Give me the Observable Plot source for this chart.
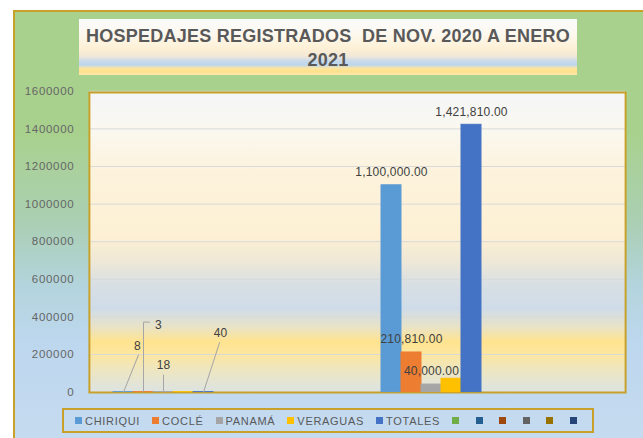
<!DOCTYPE html>
<html><head><meta charset="utf-8">
<script src="https://cdn.jsdelivr.net/npm/d3@7"></script>
<script src="https://cdn.jsdelivr.net/npm/@observablehq/plot@0.6"></script>
<style>
html,body{margin:0;padding:0;background:#fff;overflow:hidden;width:643px;height:438px;}
#page{position:relative;width:643px;height:438px;overflow:hidden;font-family:"Liberation Sans",Arial,sans-serif;}
#chartbg{position:absolute;left:13px;top:10px;width:640px;height:440px;border-left:2px solid #c8a12b;border-top:2px solid #c8a12b;
  background:linear-gradient(to bottom,#a9d18e 0%,#a9d18e 28%,#aacfb4 48%,#b3d4dc 62%,#bdd7ee 75%,#c6dbf0 100%);}
#title{position:absolute;left:79px;top:19px;width:498px;height:56px;box-sizing:border-box;padding-top:5px;
  background:linear-gradient(to bottom,#fafbfc 0%,#fdf9f0 25%,#fdf0d6 52%,#f3e8d6 66%,#c9daea 75%,#bdd6ee 82%,#fde5a0 88%,#ffe08a 94%,#fbe7b0 100%);
  text-align:center;font-weight:bold;font-size:18px;letter-spacing:0.25px;line-height:24px;color:#595959;}
#plot{position:absolute;left:0;top:0;}
#legend{position:absolute;left:62px;top:408px;width:532px;height:25px;box-sizing:border-box;border:2px solid #c8a12b;
  display:flex;align-items:center;padding-left:11px;font-size:11px;letter-spacing:0.7px;color:#595959;}
#legend .item{display:flex;align-items:center;}
#legend .sw{width:7px;height:7px;margin-right:3px;}
#legend .lab{margin-right:12px;}
#legend .blank .sw{margin-right:16.5px;}
#plot g[aria-label="y-axis tick label"] text{letter-spacing:0.7px;}
#plot g[aria-label="text"] text{letter-spacing:0.2px;}
</style></head>
<body><div id="page"><div id="chartbg"></div>
<div id="title">HOSPEDAJES REGISTRADOS&nbsp; DE NOV. 2020 A ENERO<br>2021</div>
<div id="plot"></div><div id="legend"></div></div>
<script>
const categories = ["NOV. 2020", "ENERO 2021"];
const seriesNames = ["CHIRIQUI","COCLÉ","PANAMÁ","VERAGUAS","TOTALES","SERIE 6","SERIE 7","SERIE 8","SERIE 9","SERIE 10","SERIE 11"];
const legendNames = ["CHIRIQUI","COCLÉ","PANAMÁ","VERAGUAS","TOTALES","","","","","",""];
const seriesColors = ["#5b9bd5","#ed7d31","#a5a5a5","#ffc000","#4472c4","#70ad47","#255e91","#9e480e","#636363","#997300","#264478"];
const chiriqui = [8, 1100000];
const cocle = [3, 210810];
const panama = [18, 40000];
const veraguas = [11, 71000];
const totales = [40, 1421810];
const yTicks = [0,200000,400000,600000,800000,1000000,1200000,1400000,1600000];
const labelledSeries = ["CHIRIQUI","COCLÉ","PANAMÁ","TOTALES"];

const valueArrays = [chiriqui, cocle, panama, veraguas, totales];
const rows = [];
categories.forEach((cat, i) => valueArrays.forEach((arr, j) => rows.push({cat, series: seriesNames[j], value: arr[i]})));

// style: displaced labels and leader lines for the small first-period values
const leaderStyle = {
  "CHIRIQUI": {dx: 14, dy: -46, length: 40, rotate: 22, hook: 0},
  "COCLÉ": {dx: 15, dy: -67, length: 70, rotate: 0, hook: 6},
  "PANAMÁ": {dx: 0, dy: -27, length: 17, rotate: 0, hook: 0},
  "TOTALES": {dx: 17, dy: -59, length: 52, rotate: 18, hook: 0}
};

const fmtBig = d3.format(",.2f");
const bigLabels = rows.filter(d => d.cat === categories[1] && labelledSeries.includes(d.series));
const smallLabels = rows.filter(d => d.cat === categories[0] && labelledSeries.includes(d.series));

const smallMarks = [];
for (const d of smallLabels) {
  const s = leaderStyle[d.series];
  smallMarks.push(Plot.vector([d], {fx: "cat", x: "series", y: "value", length: s.length, rotate: s.rotate, anchor: "start",
    stroke: "#a6a6a6", strokeWidth: 1,
    shape: {draw(ctx, l) { ctx.moveTo(0, 0); ctx.lineTo(0, -l); if (s.hook) ctx.lineTo(s.hook, -l); }}}));
  smallMarks.push(Plot.text([d], {fx: "cat", x: "series", y: "value", text: v => String(v.value), dx: s.dx, dy: s.dy, fontSize: 12, fill: "#404040"}));
}

const gapHalf = 22.1; // half gap between the two bar clusters (px), so frame and gridlines span the whole plot area
const chart = Plot.plot({
  width: 643, height: 400,
  marginLeft: 89, marginRight: 18, marginTop: 92, marginBottom: 8,
  style: {background: "transparent", fontFamily: "Liberation Sans, Arial, sans-serif", fontSize: "11.5px", color: "#666"},
  fx: {domain: categories, axis: null, paddingInner: 0.164, paddingOuter: 0.082, label: null},
  x: {domain: seriesNames, axis: null, padding: 0},
  y: {domain: [0, 1600000], range: [391.6, 90.8], ticks: yTicks, tickSize: 0, tickPadding: 15 + gapHalf, tickFormat: d3.format("d"), label: null},
  color: {domain: seriesNames, range: seriesColors},
  marks: [
    Plot.frame({fill: "url(#plotBg)", facet: "super", insetLeft: -gapHalf, insetRight: -gapHalf}),
    Plot.ruleY(yTicks, {stroke: "#d9d9d9", strokeWidth: 1, insetLeft: -gapHalf, insetRight: -gapHalf}),
    Plot.frame({stroke: "#c8a12b", strokeWidth: 2, facet: "super", insetLeft: -gapHalf, insetRight: -gapHalf}),
    Plot.barY(rows, {fx: "cat", x: "series", y: "value", fill: "series", stroke: "series", strokeWidth: 1}),
    Plot.text(bigLabels, {fx: "cat", x: "series", y: "value", text: d => fmtBig(d.value), dy: -13, fontSize: 12, fill: "#404040"}),
    ...smallMarks
  ]
});

const ns = "http://www.w3.org/2000/svg";
const defs = document.createElementNS(ns, "defs");
const grad = document.createElementNS(ns, "linearGradient");
grad.setAttribute("id", "plotBg"); grad.setAttribute("x1", "0"); grad.setAttribute("y1", "0"); grad.setAttribute("x2", "0"); grad.setAttribute("y2", "1");
[[0,"#f4f5f7"],[0.12,"#faf8f0"],[0.27,"#fdf3dc"],[0.48,"#fdf0d4"],[0.56,"#efe8d6"],[0.64,"#d8dfe4"],[0.72,"#cfdce8"],[0.78,"#e8e3c8"],[0.83,"#ffe38f"],[0.87,"#fde69e"],[0.92,"#efe6be"],[1,"#dce3e3"]]
  .forEach(([o, c]) => { const st = document.createElementNS(ns, "stop"); st.setAttribute("offset", o); st.setAttribute("stop-color", c); grad.appendChild(st); });
defs.appendChild(grad);
chart.insertBefore(defs, chart.firstChild);
document.getElementById("plot").appendChild(chart);

const legend = document.getElementById("legend");
seriesNames.forEach((s, i) => {
  const item = document.createElement("div");
  item.className = "item" + (legendNames[i] ? "" : " blank");
  const sw = document.createElement("span"); sw.className = "sw"; sw.style.background = seriesColors[i];
  item.appendChild(sw);
  if (legendNames[i]) { const lab = document.createElement("span"); lab.className = "lab"; lab.textContent = legendNames[i]; item.appendChild(lab); }
  legend.appendChild(item);
});
</script></body></html>
